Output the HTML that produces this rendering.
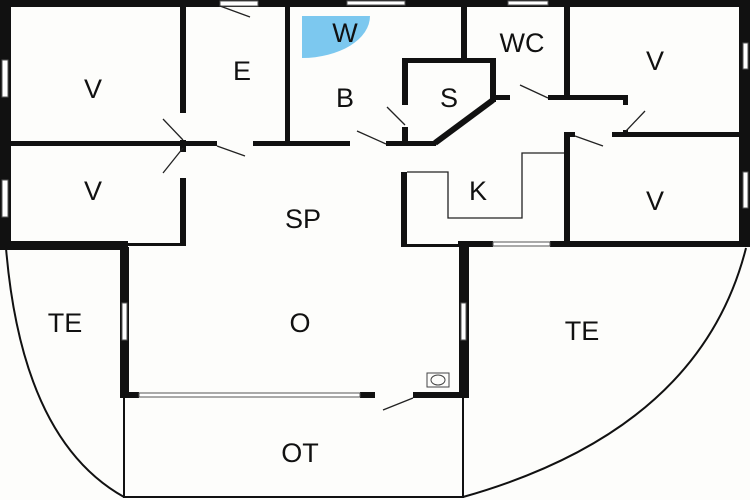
<!DOCTYPE html>
<html><head><meta charset="utf-8"><style>
html,body{margin:0;padding:0;background:#fff;}
svg{display:block}
text{font-family:"Liberation Sans",sans-serif;font-size:27px;fill:#111;text-anchor:middle;}
</style></head><body>
<svg width="750" height="500" viewBox="0 0 750 500" xmlns="http://www.w3.org/2000/svg">
<rect width="750" height="500" fill="#fdfdfb"/>
<path d="M302 16 L370 16 A68 42 0 0 1 302 58 Z" fill="#7cc8ef"/>
<path d="M6 248 Q 22 440 124 497" fill="none" stroke="#111" stroke-width="2"/>
<path d="M746 248 Q 700 430 463 497" fill="none" stroke="#111" stroke-width="2"/>
<path d="M124 398 V497 H463 V398" fill="none" stroke="#111" stroke-width="2"/>
<g fill="#111">
<rect x="0" y="0" width="750" height="7"/>
<rect x="0" y="0" width="11" height="250"/>
<rect x="739" y="0" width="11" height="247"/>
<rect x="0" y="241" width="128" height="9"/>
<rect x="128" y="243" width="58" height="3"/>
<rect x="180" y="7" width="6" height="106"/>
<rect x="180" y="140" width="6" height="12"/>
<rect x="180" y="178" width="6" height="68"/>
<rect x="10" y="141" width="170" height="5"/>
<rect x="186" y="141" width="31" height="5"/>
<rect x="253" y="141" width="97" height="5"/>
<rect x="386" y="141" width="50" height="5"/>
<rect x="285" y="7" width="5" height="137"/>
<rect x="461" y="7" width="6" height="53"/>
<rect x="402" y="58" width="94" height="5"/>
<rect x="402" y="58" width="6" height="47"/>
<rect x="402" y="127" width="6" height="18"/>
<rect x="490" y="58" width="6" height="44"/>
<rect x="496" y="95" width="14" height="5"/>
<rect x="548" y="95" width="80" height="5"/>
<rect x="623" y="95" width="5" height="10"/>
<rect x="623" y="130" width="5" height="7"/>
<rect x="564" y="7" width="6" height="93"/>
<rect x="612" y="132" width="128" height="5"/>
<rect x="564" y="132" width="11" height="5"/>
<rect x="564" y="132" width="6" height="115"/>
<rect x="401" y="172" width="6" height="75"/>
<rect x="458" y="241" width="35" height="6"/>
<rect x="550" y="241" width="200" height="6"/>
<rect x="407" y="244" width="51" height="3"/>
<rect x="120" y="247" width="9" height="151"/>
<rect x="459" y="247" width="10" height="151"/>
<rect x="120" y="392" width="19" height="6"/>
<rect x="360" y="392" width="15" height="6"/>
<rect x="413" y="392" width="56" height="6"/>
</g>
<path d="M493 100 L435 143" stroke="#111" stroke-width="6"/>
<g fill="#fff" stroke="#555" stroke-width="1">
<rect x="2" y="60" width="6" height="37"/>
<rect x="2" y="180" width="6" height="37"/>
<rect x="743" y="43" width="5" height="26"/>
<rect x="743" y="172" width="5" height="36"/>
<rect x="347" y="1" width="58" height="4"/>
<rect x="508" y="1" width="40" height="4"/>
<rect x="493" y="242" width="57" height="4"/>
<rect x="122" y="303" width="5" height="37"/>
<rect x="461" y="303" width="5" height="37"/>
<rect x="139" y="393" width="221" height="4"/>
<rect x="220" y="1" width="38" height="5"/>
</g>
<g stroke="#222" stroke-width="1.3" fill="none">
<path d="M220 6 L250 17"/>
<path d="M183 140 L163 119"/>
<path d="M183 148 L163 173"/>
<path d="M217 146 L245 156"/>
<path d="M386 144 L357 131"/>
<path d="M405 125 L387 107"/>
<path d="M548 98 L520 85"/>
<path d="M626 131 L645 111"/>
<path d="M575 136 L603 146"/>
<path d="M413 398 L383 410"/>
<path d="M407 172 H448 V218 H522 V153 H564"/>
</g>
<rect x="427" y="373" width="22" height="14" fill="none" stroke="#444" stroke-width="1"/>
<ellipse cx="438" cy="380" rx="7" ry="5" fill="none" stroke="#444" stroke-width="1"/>
<text x="93" y="98">V</text>
<text x="242" y="80">E</text>
<text x="345" y="42">W</text>
<text x="345" y="107">B</text>
<text x="449" y="107">S</text>
<text x="522" y="52">WC</text>
<text x="655" y="70">V</text>
<text x="93" y="200">V</text>
<text x="303" y="228">SP</text>
<text x="478" y="200">K</text>
<text x="655" y="210">V</text>
<text x="65" y="332">TE</text>
<text x="300" y="332">O</text>
<text x="582" y="340">TE</text>
<text x="300" y="462">OT</text>
</svg>
</body></html>
